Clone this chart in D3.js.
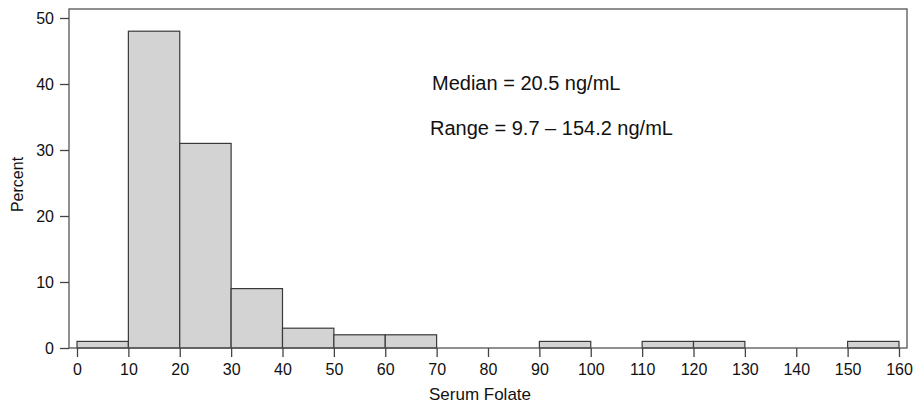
<!DOCTYPE html>
<html><head><meta charset="utf-8">
<script src="https://cdn.jsdelivr.net/npm/d3@7"></script>
<style>body{margin:0;background:#fff;} svg{display:block;font-family:"Liberation Sans",Arial,sans-serif;}</style>
</head><body>
<svg id="c" width="914" height="407"></svg>
<script>
const binStarts = [0, 10, 20, 30, 40, 50, 60, 90, 110, 120, 150];
const binWidth = 10;
const percents = [1, 48, 31, 9, 3, 2, 2, 1, 1, 1, 1];
const xTicks = d3.range(0, 161, 10);
const yTicks = [0, 10, 20, 30, 40, 50];
const annotations = ["Median = 20.5 ng/mL", "Range = 9.7 \u2013 154.2 ng/mL"];

const svg = d3.select("#c");
const x = d3.scaleLinear().domain([0, 160]).range([77, 899]);
const y = d3.scaleLinear().domain([0, 50]).range([348, 18]);
const frame = {l: 69, r: 907, t: 9, b: 348};

svg.append("g").selectAll("rect").data(binStarts).join("rect")
  .attr("x", d => x(d)).attr("width", d => x(d + binWidth) - x(d))
  .attr("y", (d, i) => y(percents[i])).attr("height", (d, i) => y(0) - y(percents[i]))
  .attr("fill", "#d3d3d3").attr("stroke", "#3a3a3a").attr("stroke-width", 1.2);

svg.append("rect").attr("x", frame.l).attr("y", frame.t)
  .attr("width", frame.r - frame.l).attr("height", frame.b - frame.t)
  .attr("fill", "none").attr("stroke", "#555").attr("stroke-width", 1.3);

const xa = svg.append("g").attr("transform", `translate(0,${frame.b})`)
  .call(d3.axisBottom(x).tickValues(xTicks).tickSize(9).tickSizeOuter(0).tickPadding(7));
xa.select(".domain").remove();
const ya = svg.append("g").attr("transform", `translate(${frame.l},0)`)
  .call(d3.axisLeft(y).tickValues(yTicks).tickSize(9).tickSizeOuter(0).tickPadding(6));
ya.select(".domain").remove();
svg.selectAll(".tick line").attr("stroke", "#444").attr("stroke-width", 1.3);
svg.selectAll(".tick text").attr("fill", "#111").attr("font-size", null)
  .style("font-size", "16px").style("font-family", "Liberation Sans, Arial, sans-serif");
xa.attr("font-size", null); ya.attr("font-size", null);

svg.append("text").attr("x", 480).attr("y", 400).attr("text-anchor", "middle")
  .attr("fill", "#111").style("font-size", "17px").text("Serum Folate");
svg.append("text").attr("transform", `translate(23,${(frame.t + frame.b) / 2 + 6}) rotate(-90)`)
  .attr("text-anchor", "middle").attr("fill", "#111").style("font-size", "16px").text("Percent");

svg.append("g").selectAll("text").data(annotations).join("text")
  .attr("x", (d, i) => i === 0 ? 432 : 430).attr("y", (d, i) => 90 + i * 45)
  .attr("fill", "#111").style("font-size", "20px").text(d => d);
</script>
</body></html>
